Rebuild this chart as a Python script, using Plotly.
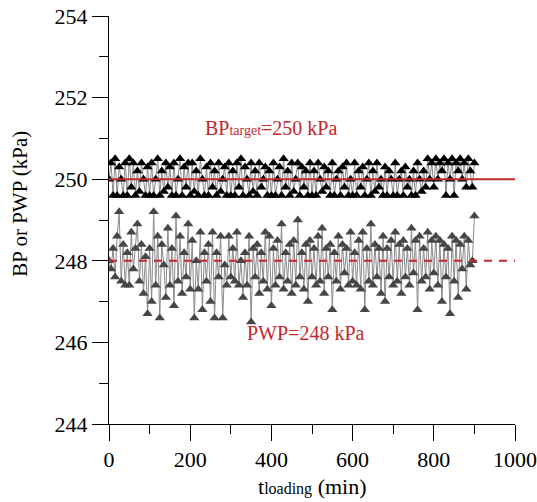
import plotly.graph_objects as go

# time axis (min): one reading every 5 min from 0 to 900
t_loading = list(range(0, 905, 5))

bp = [
    250.0, 250.4, 249.6, 250.5, 249.6, 250.3, 250.0, 249.6, 250.4, 249.6, 250.5, 249.8, 250.4, 249.6, 250.2, 249.7, 250.4, 250.0, 249.6, 250.3, 249.6,
    250.4, 249.6, 250.0, 250.5, 249.6, 250.2, 249.7, 250.4, 249.8, 250.3, 249.6, 250.4, 249.6, 250.0, 250.5, 249.6, 250.3, 249.8, 250.4, 249.6,
    250.4, 249.7, 250.2, 249.6, 250.5, 250.0, 249.6, 250.3, 249.6, 250.4, 249.8, 250.2, 249.6, 250.4, 249.7, 250.0, 250.3, 249.6, 250.4, 249.6,
    250.2, 249.6, 250.4, 249.8, 250.5, 249.6, 250.3, 250.0, 249.6, 250.4, 249.7, 250.2, 249.6, 250.4, 249.8, 250.0, 250.3, 249.6, 250.2, 249.6,
    250.4, 249.6, 250.0, 250.3, 249.6, 250.5, 249.8, 250.2, 249.6, 250.4, 249.7, 250.0, 250.4, 249.6, 250.3, 249.8, 250.2, 249.6, 250.4, 249.6,
    250.2, 249.6, 250.4, 250.0, 249.7, 250.3, 249.8, 250.2, 249.6, 250.4, 249.6, 250.0, 250.2, 249.6, 250.3, 249.8, 250.4, 249.6, 250.0, 249.6,
    250.4, 249.6, 250.2, 249.8, 250.3, 249.6, 250.0, 250.4, 249.6, 250.2, 249.7, 250.4, 249.8, 250.0, 249.6, 250.3, 249.6, 250.2, 250.0, 249.6,
    250.4, 249.6, 250.0, 250.2, 249.6, 250.3, 249.8, 250.0, 249.6, 250.2, 249.6, 250.4, 250.0, 249.7, 250.2, 249.8, 250.5, 250.0, 250.4, 249.8,
    250.5, 250.0, 250.4, 250.2, 250.5, 249.6, 250.4, 250.0, 250.5, 249.6, 250.4, 250.2, 250.5, 250.0, 250.4, 249.8, 250.5, 250.2, 249.8, 250.4,
]

pwp = [
    248.0, 247.8, 248.3, 247.6, 248.6, 249.2, 247.5, 248.4, 247.4, 248.2, 247.4, 248.7, 247.8, 248.3, 248.9, 247.5, 248.4, 247.2, 248.1, 246.7, 248.3,
    247.0, 249.2, 247.4, 248.6, 246.6, 248.4, 247.9, 247.1, 248.8, 247.4, 248.3, 246.9, 249.1, 247.5, 248.6, 247.2, 248.2, 247.6, 248.9, 247.3,
    248.5, 246.6, 248.0, 247.3, 248.7, 246.8, 248.2, 247.5, 248.4, 247.0, 248.7, 246.6, 248.2, 247.6, 248.6, 246.6, 247.9, 247.4, 248.6, 247.6,
    248.3, 247.5, 248.7, 247.4, 248.0, 247.1, 248.2, 247.4, 248.6, 246.5, 248.3, 247.6, 248.4, 247.2, 248.2, 247.5, 248.7, 247.3, 248.6, 246.9,
    248.3, 247.4, 248.5, 247.6, 248.9, 247.3, 248.2, 247.5, 248.4, 247.2, 248.5, 247.4, 249.0, 247.6, 248.2, 247.3, 248.4, 247.0, 248.5, 247.6,
    248.3, 247.4, 248.6, 247.5, 248.8, 247.2, 248.3, 247.6, 248.4, 246.8, 248.2, 247.5, 248.6, 247.3, 248.4, 247.7, 248.3, 247.4, 248.7, 247.5,
    248.2, 247.4, 248.5, 247.3, 248.7, 246.8, 248.3, 247.5, 248.9, 247.4, 248.4, 247.6, 248.3, 247.2, 248.6, 247.0, 248.3, 247.6, 248.5, 247.4,
    248.7, 247.5, 248.4, 247.2, 248.5, 247.6, 248.3, 247.4, 248.8, 247.7, 248.5, 246.8, 248.6, 247.5, 248.3, 247.6, 248.7, 247.3, 248.5, 247.7,
    248.6, 247.4, 248.5, 247.0, 248.4, 247.6, 248.3, 246.7, 248.6, 247.5, 248.5, 247.1, 248.4, 247.8, 248.6, 247.3, 248.5, 247.9, 248.0, 249.1,
]

ref_x = [0, 1000]
bp_target = [250, 250]
pwp_ref = [248, 248]

RED = "#c3282c"
FONT = "Liberation Serif, Times New Roman, serif"

fig = go.Figure()
fig.add_trace(go.Scatter(
    x=t_loading, y=pwp, mode="lines+markers",
    line=dict(color="#8a8a8a", width=1),
    marker=dict(symbol="triangle-up", size=9, color="#464646"),
    showlegend=False))
fig.add_trace(go.Scatter(
    x=t_loading, y=bp, mode="lines+markers",
    line=dict(color="#8a8a8a", width=1),
    marker=dict(symbol="triangle-up", size=9, color="#000000"),
    showlegend=False))
fig.add_trace(go.Scatter(
    x=ref_x, y=bp_target, mode="lines",
    line=dict(color=RED, width=2), showlegend=False))
fig.add_trace(go.Scatter(
    x=ref_x, y=pwp_ref, mode="lines",
    line=dict(color=RED, width=2, dash="8px,7px"), showlegend=False))

axis_common = dict(
    showgrid=False, zeroline=False, showline=True, linecolor="#000", linewidth=1,
    ticks="outside", ticklen=16, tickcolor="#000", tickwidth=1, automargin=False,
    ticklabeloverflow="allow",
    tickfont=dict(family=FONT, size=22, color="#000"),
)

fig.update_xaxes(range=[0, 1000], dtick=200, tick0=0,
                 minor=dict(dtick=100, ticks="outside", ticklen=9, tickcolor="#000"),
                 **axis_common)
fig.update_yaxes(range=[244, 254], dtick=2, tick0=244,
                 minor=dict(dtick=1, ticks="outside", ticklen=9, tickcolor="#000"),
                 **axis_common)

fig.add_annotation(x=400, y=251.25, xref="x", yref="y", showarrow=False,
                   text="BP<span style='font-size:14px'>target</span>=250 kPa",
                   font=dict(family=FONT, size=20, color=RED))
fig.add_annotation(x=485, y=246.22, xref="x", yref="y", showarrow=False,
                   text="PWP=248 kPa",
                   font=dict(family=FONT, size=20, color=RED))
fig.add_annotation(x=0.5, y=-0.152, xref="paper", yref="paper", showarrow=False,
                   yanchor="middle",
                   text="t<span style='font-size:16px'>loading</span> (min)",
                   font=dict(family=FONT, size=22, color="#000"))
fig.add_annotation(x=-0.219, y=0.54, xref="paper", yref="paper", showarrow=False,
                   textangle=-90, xanchor="center",
                   text="BP or PWP (kPa)",
                   font=dict(family=FONT, size=21, color="#000"))

fig.update_layout(
    width=537, height=502,
    margin=dict(l=109, r=22, t=16, b=78, autoexpand=False),
    paper_bgcolor="white", plot_bgcolor="white",
)

fig.write_html("out.html", config={"displayModeBar": False},
               post_script="document.body.style.margin='0';")
